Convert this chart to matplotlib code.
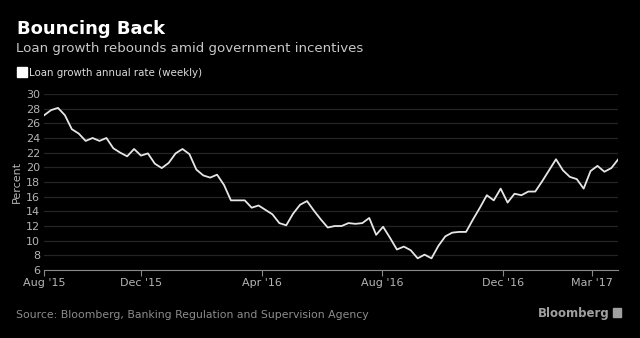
# Bouncing Back - loan growth chart
import matplotlib
matplotlib.use("Agg")
import matplotlib.pyplot as plt
import pandas as pd

# weekly loan growth annual rate, percent
loan_growth = [27.1, 27.8, 28.1, 27.1, 25.2, 24.6, 23.6, 24.0, 23.6, 24.0,
               22.6, 22.0, 21.5, 22.5, 21.6, 21.9, 20.5, 19.9, 20.6, 21.9,
               22.5, 21.8, 19.7, 18.9, 18.6, 19.0, 17.6, 15.5, 15.5, 15.5,
               14.5, 14.8, 14.2, 13.6, 12.4, 12.1, 13.7, 14.9, 15.4, 14.1,
               12.9, 11.8, 12.0, 12.0, 12.4, 12.3, 12.4, 13.1, 10.8, 11.9,
               10.4, 8.8, 9.2, 8.7, 7.6, 8.1, 7.6, 9.3, 10.6, 11.1,
               11.2, 11.2, 12.9, 14.5, 16.2, 15.5, 17.1, 15.2, 16.4, 16.2,
               16.7, 16.7, 18.1, 19.6, 21.1, 19.6, 18.7, 18.4, 17.1, 19.5,
               20.2, 19.4, 19.9, 21.1]
dates = pd.date_range("2015-08-25", periods=len(loan_growth), freq="7D")

tick_dates = pd.to_datetime(["2015-08-25", "2015-12-01", "2016-04-01",
                             "2016-08-01", "2016-12-01", "2017-03-01"])
tick_labels = ["Aug '15", "Dec '15", "Apr '16", "Aug '16", "Dec '16", "Mar '17"]
y_ticks = list(range(6, 31, 2))

bg = "black"
fig = plt.figure(figsize=(6.4, 3.38), dpi=100, facecolor=bg)
ax = fig.add_axes([0.069, 0.201, 0.897, 0.521], facecolor=bg)

ax.plot(dates, loan_growth, color="#e6e6e6", lw=1.3)

ax.set_xlim(dates[0], dates[-1])
ax.set_ylim(6, 30)
ax.set_yticks(y_ticks)
ax.set_xticks(tick_dates)
ax.set_xticklabels(tick_labels)
ax.grid(axis="y", color="#242424", lw=0.9)
ax.set_axisbelow(True)
for s in ["top", "right", "left"]:
    ax.spines[s].set_visible(False)
ax.spines["bottom"].set_color("#888888")
ax.tick_params(axis="y", length=0, colors="#b4b4b4", labelsize=8, pad=3)
ax.tick_params(axis="x", length=4, color="#888888", colors="#b4b4b4",
               labelsize=8, pad=2)
ax.set_ylabel("Percent", color="#b4b4b4", fontsize=8, labelpad=3)

fig.text(0.027, 0.90, "Bouncing Back", color="white", fontsize=13,
         fontweight="bold", va="baseline")
fig.text(0.025, 0.845, "Loan growth rebounds amid government incentives",
         color="#c8c8c8", fontsize=9.6, va="baseline")
fig.patches.append(plt.Rectangle((0.027, 0.772), 0.015, 0.03, color="white",
                                 transform=fig.transFigure, figure=fig))
fig.text(0.045, 0.775, "Loan growth annual rate (weekly)", color="#dcdcdc",
         fontsize=7.4, va="baseline")
fig.text(0.025, 0.058, "Source: Bloomberg, Banking Regulation and Supervision Agency",
         color="#8c8c8c", fontsize=7.8, va="baseline")
fig.text(0.952, 0.062, "Bloomberg", color="#a0a0a0", fontsize=8.5,
         fontweight="bold", va="baseline", ha="right")
fig.patches.append(plt.Rectangle((0.958, 0.062), 0.013, 0.027, color="#a0a0a0",
                                 transform=fig.transFigure, figure=fig))

fig.savefig("out.png", dpi=100, facecolor=bg)
